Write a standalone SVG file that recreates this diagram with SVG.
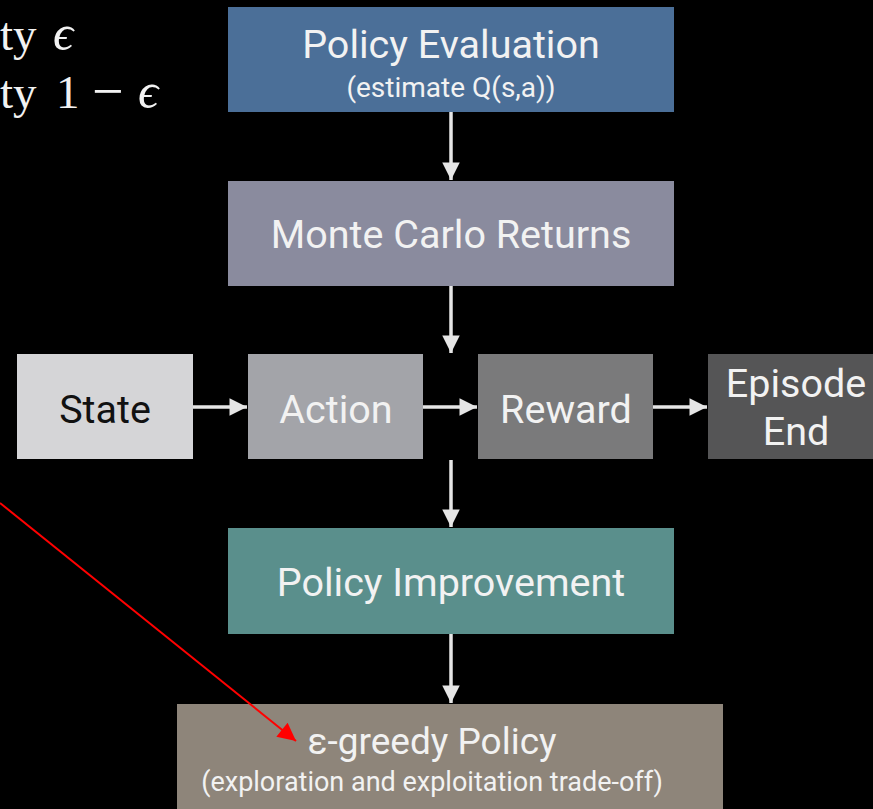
<svg xmlns="http://www.w3.org/2000/svg" width="873" height="809" viewBox="0 0 873 809">
  <style>
    .lbl { font-family: Roboto, "Liberation Sans", sans-serif; fill: #f2f2f2; text-anchor: middle; }
    .big { font-size: 39.5px; }
    .mid { font-size: 39.5px; }
    .sub { font-size: 28px; }
    .sub2 { font-size: 27px; }
    .flow { stroke: #e6e6e6; stroke-width: 3.5; fill: none; }
    .math { font-family: "Liberation Serif", "DejaVu Serif", serif; font-size: 47px; fill: #f2f2f2; }
  </style>
  <defs>
    <marker id="head" viewBox="0 0 10 10" refX="10" refY="5" markerWidth="5.5" markerHeight="5" markerUnits="strokeWidth" orient="auto">
      <path d="M0,0 L10,5 L0,10 Z" fill="#e6e6e6"/>
    </marker>
    <marker id="redhead" viewBox="0 0 10 10" refX="10" refY="5" markerWidth="11" markerHeight="9" markerUnits="strokeWidth" orient="auto">
      <path d="M0,0 L10,5 L0,10 Z" fill="#ff0000"/>
    </marker>
  </defs>

  <rect width="873" height="809" fill="#000"/>

  <!-- probability text at top left -->
  <text class="math" y="50"><tspan x="0">ty</tspan><tspan x="53" font-style="italic" font-size="50">ϵ</tspan></text>
  <text class="math" y="108"><tspan x="0">ty</tspan><tspan x="56">1</tspan><tspan x="92" font-size="56" dy="2">−</tspan><tspan x="138" dy="-2" font-style="italic" font-size="50">ϵ</tspan></text>

  <g id="policy-evaluation">
    <rect x="228" y="7" width="446" height="105" fill="#4b6f98"/>
    <text class="lbl big" x="451" y="58">Policy Evaluation</text>
    <text class="lbl sub" x="451" y="97">(estimate Q(s,a))</text>
  </g>

  <g id="monte-carlo">
    <rect x="228" y="181" width="446" height="105" fill="#8a8b9e"/>
    <text class="lbl big" x="451" y="248">Monte Carlo Returns</text>
  </g>

  <g id="state">
    <rect x="17" y="354" width="176" height="105" fill="#d5d5d7"/>
    <text class="lbl mid" x="105" y="423" style="fill:#111">State</text>
  </g>

  <g id="action">
    <rect x="248" y="354" width="175" height="105" fill="#a3a4a9"/>
    <text class="lbl mid" x="336" y="423">Action</text>
  </g>

  <g id="reward">
    <rect x="478" y="354" width="175" height="105" fill="#7a7a7b"/>
    <text class="lbl mid" x="566" y="423">Reward</text>
  </g>

  <g id="episode-end">
    <rect x="708" y="354" width="165" height="105" fill="#555556"/>
    <text class="lbl mid" x="796" y="397">Episode</text>
    <text class="lbl mid" x="796" y="445">End</text>
  </g>

  <g id="policy-improvement">
    <rect x="228" y="528" width="446" height="106" fill="#5a8f8c"/>
    <text class="lbl big" x="451" y="596">Policy Improvement</text>
  </g>

  <g id="epsilon-greedy">
    <rect x="177" y="704" width="546" height="105" fill="#8e857a"/>
    <text class="lbl" x="432" y="754" font-size="37px">ε-greedy Policy</text>
    <text class="lbl sub2" x="432" y="791">(exploration and exploitation trade-off)</text>
  </g>

  <g id="connectors">
    <line class="flow" x1="451" y1="112" x2="451" y2="180" marker-end="url(#head)"/>
    <line class="flow" x1="451" y1="286" x2="451" y2="353" marker-end="url(#head)"/>
    <line class="flow" x1="451" y1="460" x2="451" y2="527" marker-end="url(#head)"/>
    <line class="flow" x1="451" y1="634" x2="451" y2="703" marker-end="url(#head)"/>
    <line class="flow" x1="193" y1="407" x2="247" y2="407" marker-end="url(#head)"/>
    <line class="flow" x1="423" y1="407" x2="477" y2="407" marker-end="url(#head)"/>
    <line class="flow" x1="653" y1="407" x2="707" y2="407" marker-end="url(#head)"/>
    <line x1="0" y1="503" x2="296" y2="741" stroke="#ff0000" stroke-width="2" marker-end="url(#redhead)"/>
  </g>
</svg>
